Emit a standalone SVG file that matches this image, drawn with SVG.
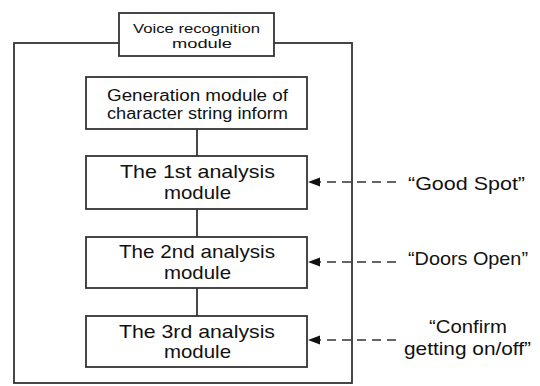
<svg xmlns="http://www.w3.org/2000/svg" width="540" height="386" viewBox="0 0 540 386">
<defs>
<style>
.box{fill:#fff;stroke:#333;stroke-width:1.8}
.ln{fill:none;stroke:#333;stroke-width:1.8}
.dash{fill:none;stroke:#333;stroke-width:1.5;stroke-dasharray:9 6}
text{font-family:"Liberation Sans",Arial,sans-serif;fill:#111;font-size:19px}
text.v{font-size:13px}
text.g{font-size:16px}
</style>
<marker id="ah" markerWidth="13" markerHeight="10" refX="12" refY="5" orient="auto" markerUnits="userSpaceOnUse">
<path d="M0,0.5 L12,5 L0,9.5 Z" fill="#111"/>
</marker>
</defs>
<rect width="540" height="386" fill="#fff"/>
<g id="frame"><rect class="ln" x="14" y="43" width="338" height="340"/></g>
<g id="voice">
<rect class="box" x="119" y="13" width="155" height="43"/>
<text class="v" x="133" y="33" textLength="127" lengthAdjust="spacingAndGlyphs">Voice recognition</text>
<text class="v" x="172" y="47.5" textLength="60" lengthAdjust="spacingAndGlyphs">module</text>
</g>
<g id="connectors">
<line class="ln" x1="197" y1="129" x2="197" y2="156"/>
<line class="ln" x1="197" y1="209" x2="197" y2="237"/>
<line class="ln" x1="197" y1="288" x2="197" y2="316"/>
<line class="dash" x1="396" y1="182" x2="308" y2="182" marker-end="url(#ah)"/>
<line class="dash" x1="396" y1="262" x2="308" y2="262" marker-end="url(#ah)"/>
<line class="dash" x1="396" y1="340" x2="308" y2="340" marker-end="url(#ah)"/>
</g>
<g id="gen">
<rect class="box" x="86" y="77" width="221" height="52"/>
<text class="g" x="107" y="100.5" textLength="181" lengthAdjust="spacingAndGlyphs">Generation module of</text>
<text class="g" x="107" y="119" textLength="181" lengthAdjust="spacingAndGlyphs">character string inform</text>
</g>
<g id="a1">
<rect class="box" x="86" y="156" width="221" height="53"/>
<text x="120" y="178" textLength="155" lengthAdjust="spacingAndGlyphs">The 1st analysis</text>
<text x="164" y="199" textLength="67" lengthAdjust="spacingAndGlyphs">module</text>
</g>
<g id="a2">
<rect class="box" x="86" y="237" width="221" height="51"/>
<text x="119" y="258" textLength="156" lengthAdjust="spacingAndGlyphs">The 2nd analysis</text>
<text x="164" y="279" textLength="67" lengthAdjust="spacingAndGlyphs">module</text>
</g>
<g id="a3">
<rect class="box" x="86" y="316" width="221" height="51"/>
<text x="119" y="338" textLength="156" lengthAdjust="spacingAndGlyphs">The 3rd analysis</text>
<text x="164" y="358" textLength="67" lengthAdjust="spacingAndGlyphs">module</text>
</g>
<g id="labels">
<text x="408" y="190" textLength="117" lengthAdjust="spacingAndGlyphs">“Good Spot”</text>
<text x="408" y="265" textLength="120" lengthAdjust="spacingAndGlyphs">“Doors Open”</text>
<text x="429" y="333" textLength="78" lengthAdjust="spacingAndGlyphs">“Confirm</text>
<text x="404" y="355" textLength="127" lengthAdjust="spacingAndGlyphs">getting on/off”</text>
</g>
</svg>
